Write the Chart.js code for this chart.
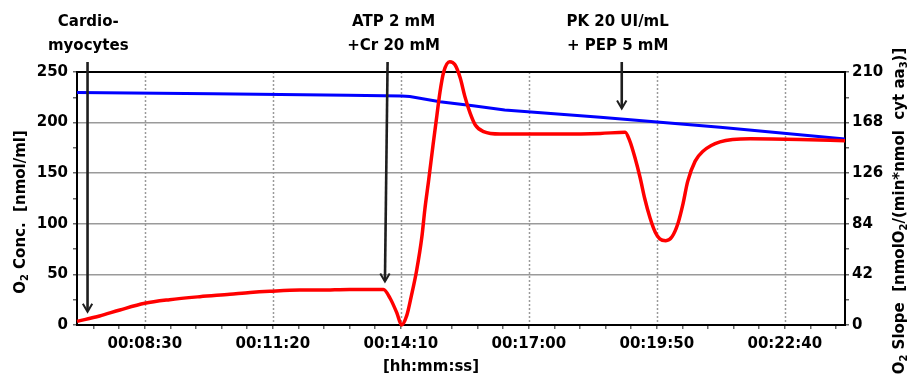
<!DOCTYPE html>
<html>
<head>
<meta charset="utf-8">
<script src="https://cdn.jsdelivr.net/npm/chart.js@4.4.1/dist/chart.umd.min.js"></script>
<style>
  html, body { margin: 0; padding: 0; background: #fff; }
  #wrap { width: 910px; height: 378px; position: relative; }
</style>
</head>
<body>
<div id="wrap"><canvas id="oxy"></canvas></div>
<script>
// time in seconds since start of the run
const slopeTimes = [420, 450, 477, 510, 543, 583, 623, 650, 676, 716, 743, 782, 827, 836, 845, 851,
  858, 864, 871, 878, 882, 887, 893, 898, 902, 907, 915, 922, 929, 935, 942, 949, 960, 982, 1008,
  1062, 1115, 1148, 1154, 1161, 1168, 1174, 1181, 1188, 1194, 1202, 1210, 1218, 1225, 1231, 1241,
  1251, 1274, 1314, 1380, 1440];
const slopeValues = [3, 7.5, 12.5, 18, 21, 23.5, 25.5, 27, 28, 29, 29, 29.5, 29.5, 22, 9.7, 0,
  8, 24, 45, 73, 96, 120, 150, 174, 193, 210, 218.6, 216, 205, 190, 176, 166, 160.5, 158.5, 158.5,
  158.5, 159, 160, 153, 139, 122, 105, 89, 77, 71.5, 70, 73, 84, 101, 119, 136,
  144, 152, 154.5, 154, 153];

const concTimes = [420, 600, 780, 851, 862, 902, 946, 988, 1115, 1274, 1440];
const concValues = [229.8, 228.5, 227, 226.3, 225.8, 220.6, 216.7, 212.4, 205.2, 195.5, 183.8];

// injections: arrow time, arrow tip (O2 conc.), label centre time, label lines
const events = [
  { t: 434, tipT: 434, tip: 13, labelT: 435, lines: ['Cardio-', 'myocytes'] },
  { t: 832.5, tipT: 829, tip: 43, labelT: 840.5, lines: ['ATP 2 mM', '+Cr 20 mM'] },
  { t: 1143.5, tipT: 1143.5, tip: 214, labelT: 1138, lines: ['PK 20 UI/mL', '+ PEP 5 mM'] }
];

const xMin = 420, xMax = 1440, xMajorStart = 510, xMajorStep = 170, xMinorStep = 34;

function hms(v) {
  const h = Math.floor(v / 3600), m = Math.floor(v / 60) % 60, s = Math.round(v % 60);
  const p = n => String(n).padStart(2, '0');
  return p(h) + ':' + p(m) + ':' + p(s);
}
const isMajorX = v => Math.abs(((v - xMajorStart) / xMajorStep) - Math.round((v - xMajorStart) / xMajorStep)) < 1e-6;

Chart.defaults.font.family = '"DejaVu Sans", sans-serif';
Chart.defaults.font.size = 15;
Chart.defaults.font.weight = 'bold';
Chart.defaults.color = '#000';

const FONT = 'bold 15px "DejaVu Sans"';

// text with subscripts, centred on (x, y)
function drawRuns(ctx, runs, x, y, size) {
  const sub = Math.round(size * 0.68);
  let total = 0;
  runs.forEach(r => {
    ctx.font = 'bold ' + (r.sub ? sub : size) + 'px "DejaVu Sans"';
    r.w = ctx.measureText(r.text).width;
    total += r.w;
  });
  let cx = x - total / 2;
  ctx.textAlign = 'left';
  ctx.textBaseline = 'middle';
  runs.forEach(r => {
    ctx.font = 'bold ' + (r.sub ? sub : size) + 'px "DejaVu Sans"';
    ctx.fillText(r.text, cx, y + (r.sub ? size * 0.3 : 0));
    cx += r.w;
  });
}

const decorations = {
  id: 'decorations',
  beforeDatasetsDraw(chart) {
    const { ctx, chartArea: a, scales } = chart;
    ctx.save();
    // dotted vertical grid at the labelled times
    ctx.strokeStyle = '#9a9a9a';
    ctx.lineWidth = 1.5;
    ctx.setLineDash([2, 2]);
    scales.x.ticks.forEach(tk => {
      if (!isMajorX(tk.value)) return;
      const px = Math.round(scales.x.getPixelForValue(tk.value)) + 0.5;
      ctx.beginPath();
      ctx.moveTo(px, a.top);
      ctx.lineTo(px, a.bottom);
      ctx.stroke();
    });
    ctx.setLineDash([]);
    ctx.strokeStyle = '#000';
    ctx.lineWidth = 2;
    ctx.strokeRect(a.left, a.top, a.right - a.left, a.bottom - a.top);
    ctx.restore();
  },
  afterDraw(chart) {
    const { ctx, chartArea: a, scales } = chart;
    const x = scales.x, yL = scales.yL;
    ctx.save();
    ctx.fillStyle = '#000';

    events.forEach(ev => {
      const x0 = x.getPixelForValue(ev.t);
      const x1 = x.getPixelForValue(ev.tipT);
      const y1 = yL.getPixelForValue(ev.tip);
      ctx.strokeStyle = '#1e1e1e';
      ctx.lineWidth = 2.6;
      ctx.beginPath();
      ctx.moveTo(x0, a.top - 10);
      ctx.lineTo(x1, y1 - 1);
      ctx.stroke();
      ctx.lineWidth = 2;
      ctx.beginPath();
      ctx.moveTo(x1 - 4.7, y1 - 8);
      ctx.lineTo(x1, y1);
      ctx.lineTo(x1 + 4.7, y1 - 8);
      ctx.stroke();

      const lx = x.getPixelForValue(ev.labelT);
      ctx.font = FONT;
      ctx.textAlign = 'center';
      ctx.textBaseline = 'middle';
      ctx.fillText(ev.lines[0], lx, 22);
      ctx.fillText(ev.lines[1], lx, 46);
    });

    // axis titles
    ctx.save();
    ctx.translate(21, 212);
    ctx.rotate(-Math.PI / 2);
    drawRuns(ctx, [{ text: 'O' }, { text: '2', sub: true }, { text: ' Conc.  [nmol/ml]' }], 0, 0, 15);
    ctx.restore();

    ctx.save();
    ctx.translate(900, 211);
    ctx.rotate(-Math.PI / 2);
    drawRuns(ctx, [{ text: 'O' }, { text: '2', sub: true }, { text: ' Slope  [nmolO' }, { text: '2', sub: true },
      { text: '/(min*nmol  cyt aa' }, { text: '3', sub: true }, { text: ')]' }], 0, 0, 15);
    ctx.restore();

    ctx.font = FONT;
    ctx.textAlign = 'center';
    ctx.textBaseline = 'middle';
    ctx.fillText('[hh:mm:ss]', 431, 367);
    ctx.restore();
  }
};

new Chart(document.getElementById('oxy'), {
  type: 'line',
  data: {
    datasets: [
      {
        label: 'O2 Slope',
        data: slopeTimes.map((t, i) => ({ x: t, y: slopeValues[i] })),
        yAxisID: 'yR',
        borderColor: '#ff0000',
        borderWidth: 3.5,
        pointRadius: 0,
        cubicInterpolationMode: 'monotone',
        clip: false,
        order: 0
      },
      {
        label: 'O2 Conc.',
        data: concTimes.map((t, i) => ({ x: t, y: concValues[i] })),
        yAxisID: 'yL',
        borderColor: '#0000ff',
        borderWidth: 3,
        pointRadius: 0,
        tension: 0,
        order: 1
      }
    ]
  },
  options: {
    responsive: true,
    maintainAspectRatio: false,
    devicePixelRatio: 1,
    animation: false,
    layout: { padding: { top: 72, left: 0, right: 0, bottom: 0 } },
    plugins: { legend: { display: false }, tooltip: { enabled: false } },
    scales: {
      x: {
        type: 'linear',
        min: xMin,
        max: xMax,
        afterBuildTicks: s => {
          const ticks = [];
          for (let v = xMajorStart - 2 * xMinorStep; v <= xMax; v += xMinorStep) ticks.push({ value: v });
          s.ticks = ticks;
        },
        afterFit: s => { s.height = 53; },
        ticks: {
          autoSkip: false,
          maxRotation: 0,
          padding: 6,
          callback: v => isMajorX(v) ? hms(v) : ''
        },
        grid: { drawOnChartArea: false, tickLength: 4, tickColor: '#666', lineWidth: 1.5 },
        border: { color: '#000', width: 2 }
      },
      yL: {
        position: 'left',
        min: 0,
        max: 250,
        afterBuildTicks: s => {
          const ticks = [];
          for (let k = 0; k <= 20; k++) ticks.push({ value: k * 12.5 });
          s.ticks = ticks;
        },
        afterFit: s => { s.width = 77; },
        ticks: {
          padding: 5,
          callback: v => (Math.round(v / 12.5) % 4 === 0 ? String(v) : '')
        },
        grid: {
          color: c => {
            const v = c.tick ? c.tick.value : 0;
            return (Math.round(v / 12.5) % 4 === 0 && v > 0 && v < 250) ? '#9a9a9a' : 'rgba(0,0,0,0)';
          },
          lineWidth: 1.5,
          tickLength: 4,
          tickColor: '#666'
        },
        border: { color: '#000', width: 2 }
      },
      yR: {
        position: 'right',
        min: 0,
        max: 210,
        afterBuildTicks: s => {
          const ticks = [];
          for (let k = 0; k <= 20; k++) ticks.push({ value: k * 10.5 });
          s.ticks = ticks;
        },
        afterFit: s => { s.width = 65; },
        ticks: {
          padding: 3,
          callback: v => (Math.round(v / 10.5) % 4 === 0 ? String(Math.round(v)) : '')
        },
        grid: { drawOnChartArea: false, tickLength: 4, tickColor: '#666', lineWidth: 1.5 },
        border: { color: '#000', width: 2 }
      }
    }
  },
  plugins: [decorations]
});
</script>
</body>
</html>
